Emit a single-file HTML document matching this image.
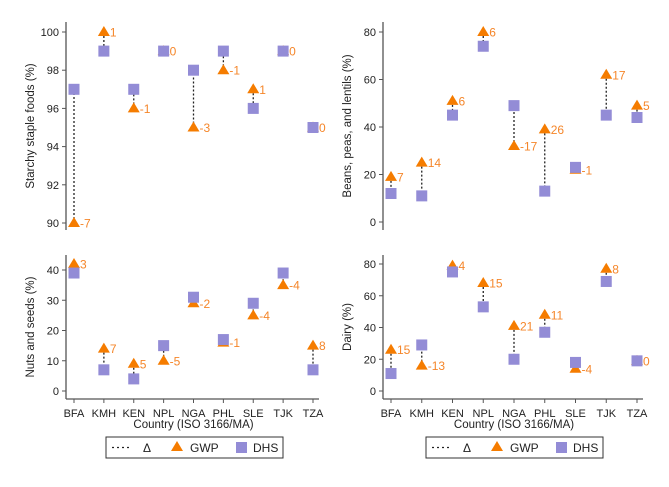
<!DOCTYPE html>
<html><head><meta charset="utf-8"><style>
html,body{margin:0;padding:0;background:#fff}
svg{display:block;font-family:"Liberation Sans",Arial,sans-serif}
</style></head><body>
<svg id="c" width="669" height="487" viewBox="0 0 669 487"></svg>
<script>
const countries=["BFA","KMH","KEN","NPL","NGA","PHL","SLE","TJK","TZA"];
const starchyGWP=[90,100,96,99,95,98,97,99,95];
const starchyDHS=[97,99,97,99,98,99,96,99,95];
const starchyDelta=[-7,1,-1,0,-3,-1,1,0,0];
const beansGWP=[19,25,51,80,32,39,22,62,49];
const beansDHS=[12,11,45,74,49,13,23,45,44];
const beansDelta=[7,14,6,6,-17,26,-1,17,5];
const nutsGWP=[42,14,9,10,29,16,25,35,15];
const nutsDHS=[39,7,4,15,31,17,29,39,7];
const nutsDelta=[3,7,5,-5,-2,-1,-4,-4,8];
const dairyGWP=[26,16,79,68,41,48,14,77,19];
const dairyDHS=[11,29,75,53,20,37,18,69,19];
const dairyDelta=[15,-13,4,15,21,11,-4,8,0];
const starchyTicks=[90,92,94,96,98,100];
const beansTicks=[0,20,40,60,80];
const nutsTicks=[0,10,20,30,40];
const dairyTicks=[0,20,40,60,80];

const svg=document.getElementById('c');
const NS="http://www.w3.org/2000/svg";
function el(t,a,p){const e=document.createElementNS(NS,t);for(const k in a)e.setAttribute(k,a[k]);(p||svg).appendChild(e);return e;}

const panels=[
 {name:"starchy",title:"Starchy staple foods (%)",g:starchyGWP,d:starchyDHS,dl:starchyDelta,ticks:starchyTicks,ax:66,x0:74,x1:313,v0:90,v1:100,y0:223,y1:32,top:22,bot:230,xl:false},
 {name:"beans",title:"Beans, peas, and lentils (%)",g:beansGWP,d:beansDHS,dl:beansDelta,ticks:beansTicks,ax:383,x0:391,x1:637,v0:0,v1:80,y0:222,y1:32,top:22,bot:230,xl:false},
 {name:"nuts",title:"Nuts and seeds (%)",g:nutsGWP,d:nutsDHS,dl:nutsDelta,ticks:nutsTicks,ax:66,x0:74,x1:313,v0:0,v1:40,y0:391,y1:270,top:255,bot:399,xl:true},
 {name:"dairy",title:"Dairy (%)",g:dairyGWP,d:dairyDHS,dl:dairyDelta,ticks:dairyTicks,ax:383,x0:391,x1:637,v0:0,v1:80,y0:391,y1:264,top:255,bot:399,xl:true}
];
panels.forEach(p=>{
 const g=el('g',{});
 
 
 const ys=v=>p.y0+(v-p.v0)*(p.y1-p.y0)/(p.v1-p.v0);
 const xs=i=>p.x0+i*(p.x1-p.x0)/(countries.length-1);
 const ax=el('line',{x1:p.ax,x2:p.ax,y1:p.top,y2:p.bot,stroke:"#555","stroke-width":1.3},g);
 
 
 p.ticks.forEach(t=>{
  const y=ys(t);
  el('line',{x1:p.ax-4,x2:p.ax,y1:y,y2:y,stroke:"#555"},g);
  const tx=el('text',{x:p.ax-7,y:y+4,"text-anchor":"end","font-size":11,fill:"#222"},g);
  tx.textContent=t;
  
  
 });
 const yt=el('text',{transform:`translate(${p.ax-32},${(p.top+p.bot)/2}) rotate(-90)`,"text-anchor":"middle","font-size":11.5,fill:"#222"},g);
 yt.textContent=p.title;
 
 
 if(p.xl){
  el('line',{x1:p.ax,x2:p.x1+6,y1:p.bot,y2:p.bot,stroke:"#555","stroke-width":1.3},g);
  countries.forEach((c,i)=>{
   el('line',{x1:xs(i),x2:xs(i),y1:p.bot,y2:p.bot+4,stroke:"#555"},g);
   const t=el('text',{x:xs(i),y:417,"text-anchor":"middle","font-size":11,fill:"#222"},g);
   t.textContent=c;
   
   
  });
  const xt=el('text',{x:(p.x0+p.x1)/2,y:428,"text-anchor":"middle","font-size":11.5,fill:"#222"},g);
  xt.textContent="Country (ISO 3166/MA)";
  
  
 }
 countries.forEach((c,i)=>{
  const x=xs(i),yg=ys(p.g[i]),yd=ys(p.d[i]);
  const l=el('line',{x1:x,x2:x,y1:yg,y2:yd,stroke:"#222","stroke-width":1.3,"stroke-dasharray":"2,2"},g);
  
  
  const tri=el('polygon',{points:`${x},${yg-6} ${x-6},${yg+4} ${x+6},${yg+4}`,fill:"#f57c00"},g);
  
  
  const sq=el('rect',{x:x-5.5,y:yd-5.5,width:11,height:11,fill:"#938cd6"},g);
  
  
  const lb=el('text',{x:x+6,y:yg+4.5,"font-size":12,fill:"#f5862a"},g);
  lb.textContent=p.dl[i];
  
  
 });
});
[106,426].forEach(lx=>{
 const g=el('g',{});
 
 
 el('rect',{x:lx,y:437,width:177,height:21,fill:"#fff",stroke:"#333","stroke-width":1},g);
 el('line',{x1:lx+6,x2:lx+26,y1:447.5,y2:447.5,stroke:"#222","stroke-width":1.3,"stroke-dasharray":"2,3"},g);
 const t1=el('text',{x:lx+37,y:452,"font-size":12,fill:"#222"},g);t1.textContent="Δ";
 
 
 el('polygon',{points:`${lx+71},${441} ${lx+65},${451} ${lx+77},${451}`,fill:"#f57c00"},g);
 const t2=el('text',{x:lx+84,y:452,"font-size":12,fill:"#222"},g);t2.textContent="GWP";
 
 
 el('rect',{x:lx+130,y:442,width:11,height:11,fill:"#938cd6"},g);
 const t3=el('text',{x:lx+147,y:452,"font-size":12,fill:"#222"},g);t3.textContent="DHS";
 
 
});
</script>
</body></html>
